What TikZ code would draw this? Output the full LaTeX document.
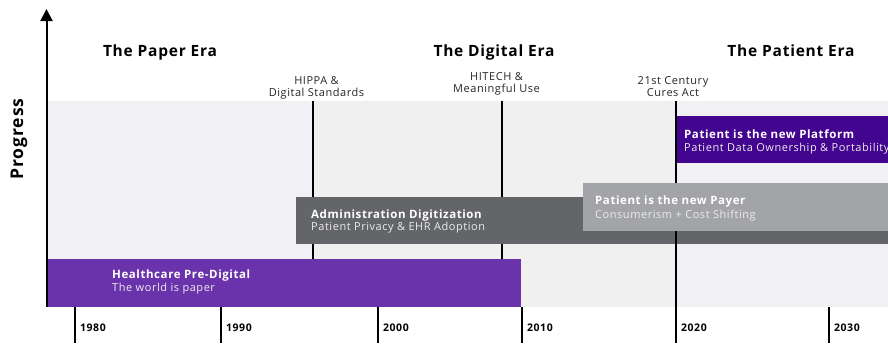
\documentclass[tikz,border=0pt]{standalone}
\usepackage{fontspec}
\setmainfont{Open Sans}[LetterSpace=5]
\usetikzlibrary{arrows.meta}
\definecolor{bgA}{HTML}{F1F0F4}
\definecolor{bgB}{HTML}{F0F0F0}
\definecolor{purpleA}{HTML}{6B33AB}
\definecolor{purpleB}{HTML}{43048F}
\definecolor{grayA}{HTML}{636569}
\definecolor{grayB}{HTML}{A3A4A7}
\definecolor{subtxt}{HTML}{ECECEC}
\tikzset{
  era/.style={font=\fontsize{15.5}{18}\selectfont\bfseries, anchor=base, inner sep=0pt},
  mile/.style={font=\fontsize{11}{12}\selectfont, anchor=base, inner sep=0pt, text=black!85},
  yr/.style={font=\fontsize{10.5}{12}\selectfont\bfseries, anchor=base west, inner sep=0pt},
  head/.style={font=\fontsize{11.5}{13}\selectfont\bfseries, anchor=base west, inner sep=0pt, text=white},
  sub/.style={font=\fontsize{11}{13}\selectfont, anchor=base west, inner sep=0pt, text=subtxt},
  vline/.style={line width=2pt, black},
  bar/.style={draw=none, inner sep=0pt}
}
\begin{document}
\begin{tikzpicture}[x=1pt,y=-1pt]
\useasboundingbox (0,0) rectangle (888,343);
\clip (0,0) rectangle (888,343);
% background band
\fill[bgA] (46,101) rectangle (313,307);
\fill[bgB] (313,101) rectangle (676,307);
\fill[bgA] (676,101) rectangle (888,307);
% milestone lines (under admin bar)
\coordinate (h1) at (313,101); \coordinate (h2) at (313,259);
\coordinate (t1) at (502,101); \coordinate (t2) at (502,259);
\draw[vline] (h1) -- (h2);
\draw[vline] (t1) -- (t2);
% admin bar
\fill[grayA] (296,197) rectangle (888,244);
\node[head] (adminH) at (311,218) {Administration Digitization};
\node[sub] (adminS) at (311,230) {Patient Privacy \& EHR Adoption};
% 21st century line
\coordinate (c1) at (676,101); \coordinate (c2) at (676,343);
\draw[vline] (c1) -- (c2);
% payer bar
\fill[grayB] (583,183) rectangle (888,231);
\node[head] (payH) at (595,204.7) {Patient is the new Payer};
\node[sub] (payS) at (595,218.3) {Consumerism + Cost Shifting};
% platform bar
\fill[purpleB] (677,116) rectangle (888,163);
\node[head] (platH) at (684,138.3) {Patient is the new Platform};
\node[sub] (platS) at (684,151.7) {Patient Data Ownership \& Portability};
% pre-digital bar
\fill[purpleA] (46,259) rectangle (521,307);
\node[head] (preH) at (112,278) {Healthcare Pre-Digital};
\node[sub] (preS) at (112,291.7) {The world is paper};
% axis
\coordinate (a0) at (46.5,307); \coordinate (a1) at (46.5,9);
\draw[line width=2pt, -{Triangle[length=12pt,width=12pt]}] (a0) -- (a1);
% year ticks
\foreach \n/\x/\y in {y80/75/1980, y90/221/1990, y00/378/2000, y10/522/2010, y30/829/2030}{
  \coordinate (\n a) at (\x,307); \coordinate (\n b) at (\x,343);
  \draw[vline] (\n a) -- (\n b);
}
\foreach \n/\x/\y in {l80/75/1980, l90/221/1990, l00/378/2000, l10/522/2010, l20/676/2020, l30/829/2030}{
  \node[yr] (\n) at (\x+5,331) {\y};
}
% era titles
\node[era] (paper) at (160,56) {The Paper Era};
\node[era] (digital) at (494,56) {The Digital Era};
\node[era] (patient) at (791,56) {The Patient Era};
% milestone labels
\node[mile] (m1a) at (316.5,84) {HIPPA \&};
\node[mile] (m1b) at (316.5,96) {Digital Standards};
\node[mile] (m2a) at (496.5,80) {HITECH \&};
\node[mile] (m2b) at (496.5,92) {Meaningful Use};
\node[mile] (m3a) at (673,84) {21st Century};
\node[mile] (m3b) at (673,96) {Cures Act};
% progress
\node[font=\fontsize{17.5}{18}\selectfont\bfseries, rotate=90, inner sep=0pt] (prog) at (19,139) {Progress};
\end{tikzpicture}
\end{document}
